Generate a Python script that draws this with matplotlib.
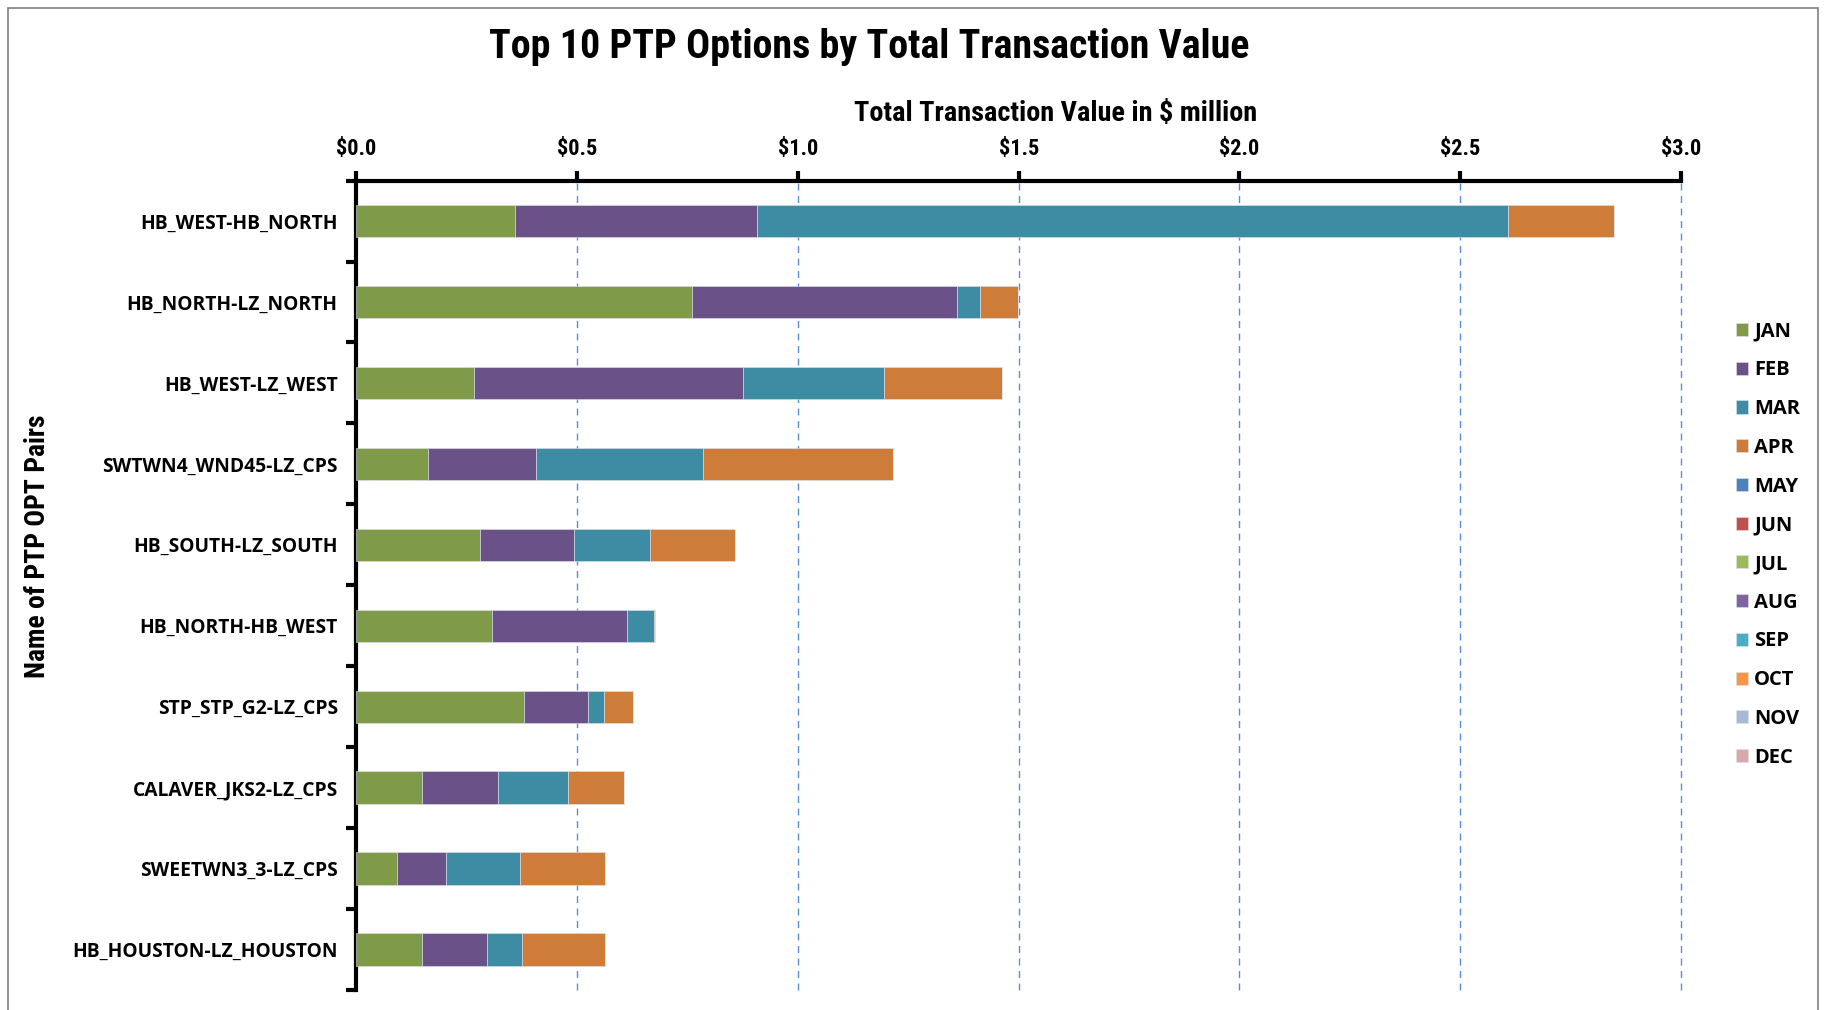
import numpy as np
import matplotlib.pyplot as plt
from matplotlib.patches import Rectangle

# data ($ million), top to bottom
pairs = ['HB_WEST-HB_NORTH', 'HB_NORTH-LZ_NORTH', 'HB_WEST-LZ_WEST',
         'SWTWN4_WND45-LZ_CPS', 'HB_SOUTH-LZ_SOUTH', 'HB_NORTH-HB_WEST',
         'STP_STP_G2-LZ_CPS', 'CALAVER_JKS2-LZ_CPS', 'SWEETWN3_3-LZ_CPS',
         'HB_HOUSTON-LZ_HOUSTON']
months = ['JAN', 'FEB', 'MAR', 'APR', 'MAY', 'JUN',
          'JUL', 'AUG', 'SEP', 'OCT', 'NOV', 'DEC']

jan = [0.360, 0.761, 0.266, 0.161, 0.280, 0.308, 0.380, 0.149, 0.092, 0.148]
feb = [0.547, 0.600, 0.610, 0.245, 0.212, 0.305, 0.144, 0.171, 0.111, 0.147]
mar = [1.702, 0.052, 0.318, 0.379, 0.173, 0.062, 0.037, 0.160, 0.168, 0.081]
apr = [0.239, 0.086, 0.268, 0.430, 0.192, 0.002, 0.065, 0.127, 0.193, 0.187]
zero = [0.0] * 10
values = [jan, feb, mar, apr] + [zero] * 8

colors = ['#7F9A48', '#6A5187', '#3D8CA4', '#CD7C39', '#4F81BD', '#C0504D',
          '#9BBB59', '#8064A2', '#4BACC6', '#F79646', '#A7B9D9', '#D9A8A8']

xticks = [0.0, 0.5, 1.0, 1.5, 2.0, 2.5, 3.0]

narrow = ['Liberation Sans Narrow', 'Roboto Condensed', 'Roboto', 'DejaVu Sans']
wide = ['Open Sans', 'DejaVu Sans']

fig = plt.figure(figsize=(18.27, 10.10), dpi=100)
ax = fig.add_axes([0.1951, 0.0198, 0.7250, 0.8014])

y = np.arange(len(pairs))
left = np.zeros(len(pairs))
handles = []
for m, vals, c in zip(months, values, colors):
    b = ax.barh(y, vals, left=left, height=0.4, color=c, label=m,
                edgecolor='#dde3ea', linewidth=0.4, zorder=3)
    handles.append(b)
    left += np.array(vals)

ax.set_ylim(len(pairs) - 0.5, -0.5)
ax.set_xlim(0, 3.0)

ax.xaxis.tick_top()
ax.xaxis.set_label_position('top')
ax.set_xticks(xticks)
ax.set_xticklabels(['$%.1f' % t for t in xticks], fontsize=16, fontweight='bold',
                   family=narrow)
ax.tick_params(axis='x', direction='out', length=7, width=3, pad=8)

ax.set_yticks(y)
ax.set_yticklabels(pairs, fontsize=13.9, fontweight='bold', family=wide)
ax.set_yticks(np.arange(len(pairs) + 1) - 0.5, minor=True)
ax.tick_params(axis='y', which='major', length=0, pad=13.5)
ax.tick_params(axis='y', which='minor', direction='out', length=7, width=3)

ax.grid(axis='x', color='#5B8ED6', linestyle=(0, (5, 4)), linewidth=1, zorder=0)
for gl in ax.get_xgridlines():
    gl.set_clip_on(False)
ax.set_axisbelow(True)

for s in ['right', 'bottom']:
    ax.spines[s].set_visible(False)
for s in ['top', 'left']:
    ax.spines[s].set_linewidth(3)
    ax.spines[s].set_color('black')

fig.text(0.4755, 0.9539, 'Top 10 PTP Options by Total Transaction Value',
         ha='center', va='center', fontsize=28.8, fontweight='bold', family=narrow)
fig.text(0.5775, 0.888, 'Total Transaction Value in $ million',
         ha='center', va='center', fontsize=20.3, fontweight='bold', family=narrow)
fig.text(0.0203, 0.4594, 'Name of PTP OPT Pairs', rotation=90,
         ha='center', va='center', fontsize=19.9, fontweight='bold', family=narrow)

fig.legend(handles=handles, loc='upper left', bbox_to_anchor=(0.9445, 0.6915),
           frameon=False, handlelength=0.62, handleheight=0.62, handletextpad=0.3,
           labelspacing=0.93, borderpad=0,
           prop={'family': wide, 'weight': 'bold', 'size': 14.5})

fig.patches.append(Rectangle((0.0045, -0.01), 0.9905, 1.002, transform=fig.transFigure,
                             fill=False, edgecolor='#7f7f7f', linewidth=1.2))

fig.savefig('out.png', dpi=100)
